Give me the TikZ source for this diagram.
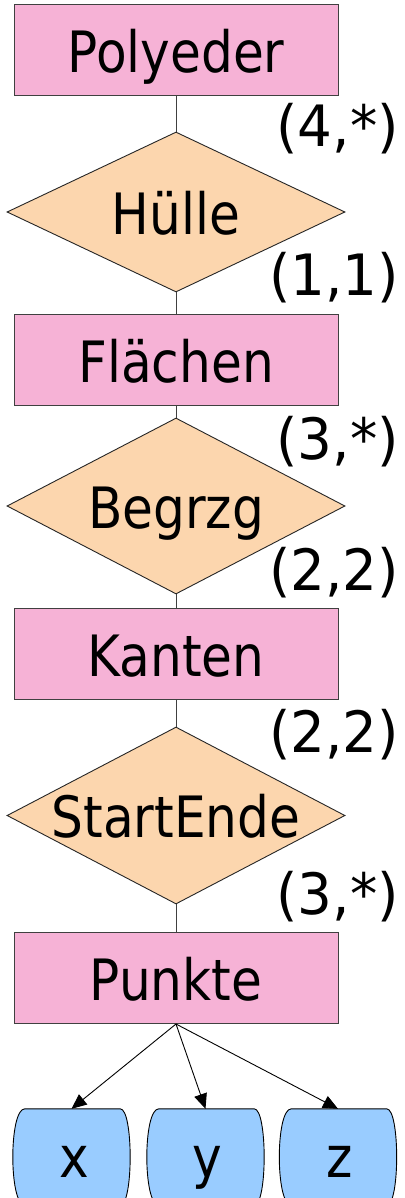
\documentclass[tikz,border=0pt]{standalone}
\usepackage{fontspec}
\setmainfont{DejaVu Sans}[FakeStretch=0.88]
\newfontfamily\lblfont{DejaVu Sans}[FakeStretch=0.96]
\usetikzlibrary{shapes.geometric,arrows.meta,calc}
\definecolor{entpink}{HTML}{F6B2D6}
\definecolor{relpeach}{HTML}{FCD6AE}
\definecolor{attblue}{HTML}{99CCFF}
\definecolor{edgegray}{HTML}{404040}
\pgfdeclarelayer{bg}
\pgfsetlayers{bg,main}
\newcommand\barrelshape[1]{%
  \begin{pgfonlayer}{bg}
  \draw[fill=attblue,draw=black,line width=0.9pt]
    ($(#1.north west)+(12,0)$) -- ($(#1.north east)+(-10,0)$)
    .. controls ($(#1.north east)+(3.3,0)$) and ($(#1.south east)+(3.3,0)$) .. ($(#1.south east)+(-10,0)$)
    -- ($(#1.south west)+(12,0)$)
    .. controls ($(#1.south west)+(-4,0)$) and ($(#1.north west)+(-4,0)$) .. cycle;
  \end{pgfonlayer}}
\begin{document}
\begin{tikzpicture}[x=1pt,y=-1pt,
  entity/.style={rectangle,draw=edgegray,line width=1pt,fill=entpink,
    minimum width=324pt,minimum height=91pt,inner sep=0pt,
    text height=44pt,text depth=0pt,font=\fontsize{57}{60}\selectfont},
  relship/.style={diamond,draw=black!85,line width=0.9pt,fill=relpeach,
    minimum width=338pt,inner sep=0pt},
  reltext/.style={inner sep=0pt,text height=44pt,text depth=0pt,
    font=\fontsize{57}{60}\selectfont},
  card/.style={anchor=base east,inner sep=0pt,font=\lblfont\fontsize{57}{60}\selectfont},
  attr/.style={rectangle,minimum width=117pt,minimum height=96pt,inner sep=0pt,
    text height=40pt,text depth=0pt,font=\fontsize{57}{60}\selectfont},
  link/.style={draw=edgegray,line width=1pt},
  arr/.style={draw=black,line width=0.9pt,-{Triangle[length=15pt,width=13pt]}}
]
\useasboundingbox (0,0) rectangle (404,1198);
\begin{pgfonlayer}{bg}
\fill[white] (0,0) rectangle (404,1198);
\end{pgfonlayer}

\node[entity] (poly) at (176,50.5) {Polyeder};
\node[relship,minimum height=160pt] (hull) at (176,212) {};
\node[reltext] (hullT) at (176,212) {Hülle};
\node[entity] (flae) at (176,360) {Flächen};
\node[relship,minimum height=176pt] (begr) at (176,506) {};
\node[reltext] (begrT) at (176,506) {Begrzg};
\node[entity] (kant) at (176,654) {Kanten};
\node[relship,minimum height=177pt] (stend) at (176,815.5) {};
\node[reltext] (stendT) at (176,815.5) {StartEnde};
\node[entity] (punk) at (176,978) {Punkte};

\draw[link] (poly.south) -- (hull.north);
\draw[link] (hull.south) -- (flae.north);
\draw[link] (flae.south) -- (begr.north);
\draw[link] (begr.south) -- (kant.north);
\draw[link] (kant.south) -- (stend.north);
\draw[link] (stend.south) -- (punk.north);

\node[card] (c1) at (399,147) {(4,*)};
\node[card] (c2) at (399,295) {(1,1)};
\node[card] (c3) at (399,459) {(3,*)};
\node[card] (c4) at (399,590) {(2,2)};
\node[card] (c5) at (399,752) {(2,2)};
\node[card] (c6) at (399,914) {(3,*)};

\node[attr] (ax) at (71.5,1157) {\hspace*{6pt}x};
\node[attr] (ay) at (205.5,1157) {\hspace*{4pt}y};
\node[attr] (az) at (338,1157) {\hspace*{3pt}z};
\barrelshape{ax}
\barrelshape{ay}
\barrelshape{az}

\draw[arr] (punk.south) -- (ax.north);
\draw[arr] (punk.south) -- (ay.north);
\draw[arr] (punk.south) -- (az.north);
\end{tikzpicture}
\end{document}
